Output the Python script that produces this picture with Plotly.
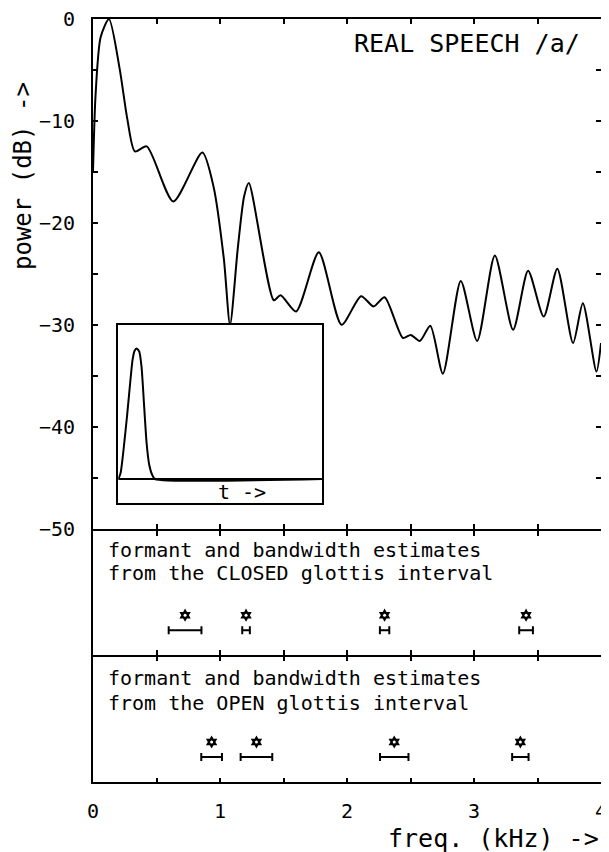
import plotly.graph_objects as go

# ---------------- data ----------------
# spectrum (kHz, dB) read at turning points of the curve
spec_f = [0.0, 0.02, 0.06, 0.126, 0.21, 0.27, 0.330, 0.423, 0.632, 0.861, 0.95, 1.03, 1.079, 1.14, 1.19,
          1.227, 1.424, 1.477, 1.599, 1.778, 1.957, 2.111, 2.209, 2.296, 2.440, 2.502,
          2.573, 2.656, 2.755, 2.896, 3.025, 3.164, 3.308, 3.426, 3.549, 3.656, 3.780,
          3.857, 3.964, 4.0]
spec_db = [-15.0, -7.5, -1.8, 0.0, -4.9, -9.8, -13.0, -12.5, -17.9, -13.1, -16.5, -23.5, -30.0, -22.5, -17.4,
           -16.1, -27.6, -27.1, -28.7, -22.9, -30.0, -27.2, -28.2, -27.3, -31.3, -31.0,
           -31.6, -30.1, -34.8, -25.7, -31.6, -23.2, -30.5, -24.7, -29.2, -24.5, -31.8,
           -27.9, -34.6, -31.8]

# inset glottal pulse (fraction of time axis, relative amplitude)
pulse_t = [0.0, 0.011, 0.041, 0.070, 0.080, 0.090, 0.103, 0.114, 0.126, 0.139, 0.152, 0.168, 0.18, 1.0]
pulse_a = [0.0, 0.037, 0.383, 0.773, 0.833, 0.848, 0.827, 0.729, 0.491, 0.232, 0.091, 0.022, 0.0, 0.0]

# formant estimates (kHz) and bandwidths (kHz)
closed_f = [0.725, 1.205, 2.296, 3.41]
closed_bw = [0.258, 0.06, 0.074, 0.108]
open_f = [0.934, 1.287, 2.372, 3.365]
open_bw = [0.163, 0.249, 0.224, 0.129]

y_ticks = [0, -5, -10, -15, -20, -25, -30, -35, -40, -45, -50]
y_ticklabels = ["0", "", "\u221210", "", "\u221220", "", "\u221230", "", "\u221240", "", "\u221250"]
x_ticks = [0, 0.5, 1, 1.5, 2, 2.5, 3, 3.5, 4]
x_ticklabels = ["0", "", "1", "", "2", "", "3", "", "4"]

FONT = "DejaVu Sans Mono"
BLACK = "black"

fig = go.Figure()

# main spectrum
fig.add_trace(go.Scatter(x=spec_f, y=spec_db, mode="lines",
                         line=dict(color=BLACK, width=2, shape="spline", smoothing=0.7),
                         xaxis="x", yaxis="y", showlegend=False, hoverinfo="skip"))

# inset pulse
fig.add_trace(go.Scatter(x=pulse_t, y=pulse_a, mode="lines",
                         line=dict(color=BLACK, width=2, shape="spline", smoothing=0.6),
                         xaxis="x4", yaxis="y4", showlegend=False, hoverinfo="skip"))

MARK_Y = 0.32
BAR_Y = 0.20


def add_estimates(freqs, bws, xa, ya):
    fig.add_trace(go.Scatter(x=freqs, y=[MARK_Y] * len(freqs), mode="markers",
                             marker=dict(symbol="hexagram", size=10, color=BLACK),
                             xaxis=xa, yaxis=ya, showlegend=False, hoverinfo="skip"))
    fig.add_trace(go.Scatter(x=freqs, y=[MARK_Y] * len(freqs), mode="markers",
                             marker=dict(symbol="circle", size=3, color="white"),
                             xaxis=xa, yaxis=ya, showlegend=False, hoverinfo="skip"))
    fig.add_trace(go.Scatter(x=freqs, y=[BAR_Y] * len(freqs), mode="markers",
                             marker=dict(size=1, color="rgba(0,0,0,0)"),
                             error_x=dict(type="data", array=[b / 2 for b in bws], symmetric=True,
                                          color=BLACK, thickness=2, width=4),
                             xaxis=xa, yaxis=ya, showlegend=False, hoverinfo="skip"))


add_estimates(closed_f, closed_bw, "x2", "y2")
add_estimates(open_f, open_bw, "x3", "y3")

PLOT_H = 763.0
D_MAIN = 0.3322
D_SEP = 0.1664
OVL = 2 / PLOT_H  # lets neighbouring panel border lines coincide

axis_common = dict(showline=True, linecolor=BLACK, linewidth=2, showgrid=False, zeroline=False,
                   automargin=False)

# the page body adds an 8px offset, so the figure is 8px smaller on each axis
fig.update_layout(
    width=601, height=844,
    margin=dict(l=85, r=8, t=11, b=70, autoexpand=False),
    paper_bgcolor="white", plot_bgcolor="white",
    font=dict(family=FONT, color=BLACK, size=19),
    xaxis=dict(domain=[0, 1], anchor="y", range=[0, 4], tickvals=x_ticks, showticklabels=False,
               ticks="inside", ticklen=5, tickwidth=1.5, tickcolor=BLACK, mirror="ticks", **axis_common),
    yaxis=dict(domain=[D_MAIN, 1], anchor="x", range=[-50, 0], tickvals=y_ticks, ticktext=y_ticklabels,
               ticks="inside", ticklen=5, tickwidth=1.5, tickcolor=BLACK, mirror="ticks",
               ticklabelstandoff=12, ticklabeloverflow="allow",
               tickfont=dict(family=FONT, size=20), **axis_common),
    xaxis2=dict(domain=[0, 1], anchor="y2", range=[0, 4], tickvals=x_ticks, showticklabels=False,
                ticks="inside", ticklen=5, tickwidth=1.5, tickcolor=BLACK, mirror="ticks", **axis_common),
    yaxis2=dict(domain=[D_SEP, D_MAIN - OVL], anchor="x2", range=[0, 1], ticks="", showticklabels=False,
                mirror=True, **axis_common),
    xaxis3=dict(domain=[0, 1], anchor="y3", range=[0, 4], tickvals=x_ticks, ticktext=x_ticklabels,
                ticks="inside", ticklen=4, tickwidth=1.5, tickcolor=BLACK, mirror="ticks",
                ticklabelstandoff=10, ticklabeloverflow="allow",
                tickfont=dict(family=FONT, size=20), **axis_common),
    yaxis3=dict(domain=[0, D_SEP - OVL], anchor="x3", range=[0, 1], ticks="", showticklabels=False,
                mirror=True, **axis_common),
    xaxis4=dict(domain=[0.0498, 0.4508], anchor="y4", range=[0, 1], showticklabels=False, ticks="",
                mirror=True, **axis_common),
    yaxis4=dict(domain=[0.366, 0.599], anchor="x4", range=[-0.154, 1], showticklabels=False, ticks="",
                mirror=True, **axis_common),
)

# inset baseline
fig.add_shape(type="line", xref="x4", yref="y4", x0=0, x1=1, y0=0, y1=0,
              line=dict(color=BLACK, width=2))

ann = []
ann.append(dict(text="REAL SPEECH /a/", xref="x", yref="y", x=3.85, y=-2.4,
                xanchor="right", yanchor="middle", showarrow=False,
                font=dict(family=FONT, size=25, color=BLACK)))
ann.append(dict(text="t ->", xref="x4", yref="y4", x=0.606, y=-0.085,
                xanchor="center", yanchor="middle", showarrow=False,
                font=dict(family=FONT, size=20, color=BLACK)))
for xa, ya, l1, l2, y1, y2 in [
    ("x2", "y2", "formant and bandwidth estimates", "from the CLOSED glottis interval", 0.84, 0.655),
    ("x3", "y3", "formant and bandwidth estimates", "from the OPEN glottis interval", 0.83, 0.635),
]:
    for txt, yy in [(l1, y1), (l2, y2)]:
        ann.append(dict(text=txt, xref=xa, yref=ya, x=0.10, y=yy, xanchor="left", yanchor="middle",
                        showarrow=False, font=dict(family=FONT, size=20, color=BLACK)))
ann.append(dict(text="freq. (kHz) ->", xref="paper", yref="paper", x=1.0, y=-0.0734,
                xanchor="right", yanchor="middle", showarrow=False,
                font=dict(family=FONT, size=25, color=BLACK)))
ann.append(dict(text="power (dB) ->", xref="paper", yref="paper", x=-0.1368, y=0.7936,
                xanchor="center", yanchor="middle", textangle=-90, showarrow=False,
                font=dict(family=FONT, size=24, color=BLACK)))
fig.update_layout(annotations=ann)

fig.write_html("out.html")
